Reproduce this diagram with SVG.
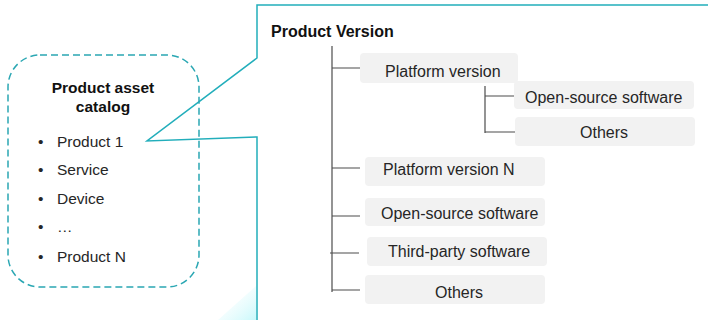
<svg xmlns="http://www.w3.org/2000/svg" width="708" height="320" viewBox="0 0 708 320">
<defs>
<style>
.cy{fill:none;stroke:#22aebb;stroke-width:1.5}
.dash{fill:none;stroke:#2aa7b3;stroke-width:1.5;stroke-dasharray:7 4}
.t{font-family:"Liberation Sans",Arial,sans-serif;font-size:15.5px;fill:#262626}
.n{font-size:16px}
.b{font-family:"Liberation Sans",Arial,sans-serif;font-size:15.5px;font-weight:bold;fill:#111}
.box{fill:#f2f2f2}
.ln{stroke:#4d4d4d;stroke-width:1.2;fill:none}
</style>
<linearGradient id="glow" x1="1" y1="1" x2="0" y2="0">
<stop offset="0" stop-color="#c8f8fb"/>
<stop offset="1" stop-color="#ffffff" stop-opacity="0"/>
</linearGradient>
</defs>
<rect width="708" height="320" fill="#fff"/>
<polygon points="218,320 256,286 256,320" fill="url(#glow)"/>
<g id="callout">
<path class="cy" d="M708,5 H257 V58 L147,141 L257,137 V320"/>
</g>
<g id="catalog">
<rect class="dash" x="8" y="55" width="191" height="232" rx="32"/>
<text class="b" x="103" y="93" text-anchor="middle">Product asset</text>
<text class="b" x="103" y="112" text-anchor="middle">catalog</text>
<g class="t">
<text x="38" y="147">•</text><text x="57" y="147">Product 1</text>
<text x="38" y="175">•</text><text x="57" y="175">Service</text>
<text x="38" y="204">•</text><text x="57" y="204">Device</text>
<text x="38" y="232">•</text><text x="57" y="232">…</text>
<text x="38" y="262">•</text><text x="57" y="262">Product N</text>
</g>
</g>
<text id="title" class="b" x="271" y="37" style="font-size:16px">Product Version</text>
<g id="connectors">
<path class="ln" d="M332,46 V292 M332,68 H360 M332,168 H360 M332,216 H360 M330,253 H359 M332,290 H360"/>
<path class="ln" d="M485,86 V133 M485,96 H514 M485,132 H515"/>
</g>
<g id="n-platform"><rect class="box" x="360" y="53" width="158" height="30" rx="4"/><text class="t n" x="385" y="77">Platform version</text></g>
<g id="n-sub-oss"><rect class="box" x="514" y="81" width="180" height="28" rx="4"/><text class="t n" x="525" y="103">Open-source software</text></g>
<g id="n-sub-others"><rect class="box" x="515" y="117" width="180" height="29" rx="4"/><text class="t n" x="604" y="138" text-anchor="middle">Others</text></g>
<g id="n-platform-n"><rect class="box" x="365" y="157" width="180" height="29" rx="4"/><text class="t n" x="383" y="175">Platform version N</text></g>
<g id="n-oss"><rect class="box" x="365" y="198" width="180" height="28" rx="4"/><text class="t n" x="381" y="219">Open-source software</text></g>
<g id="n-third"><rect class="box" x="367" y="237" width="180" height="29" rx="4"/><text class="t n" x="388" y="257">Third-party software</text></g>
<g id="n-others"><rect class="box" x="365" y="275" width="180" height="29" rx="4"/><text class="t n" x="459" y="298" text-anchor="middle">Others</text></g>
</svg>
